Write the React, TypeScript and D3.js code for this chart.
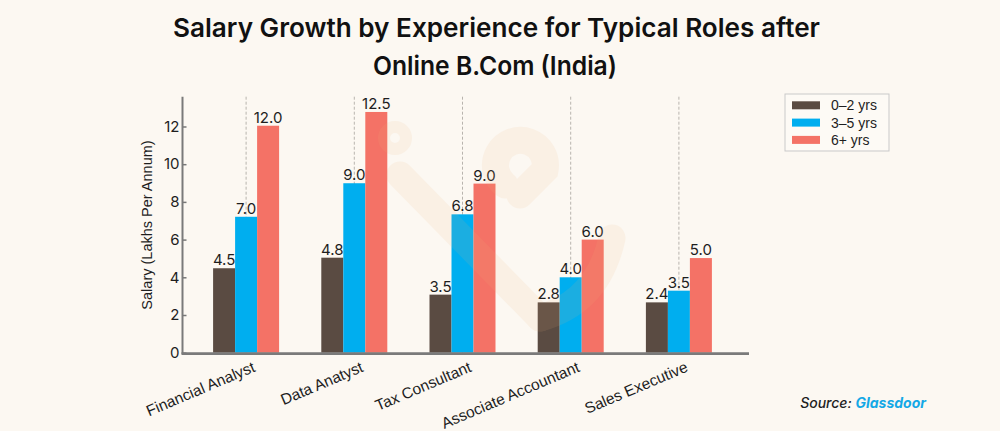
import React, { useEffect, useRef } from 'react'
import * as d3 from 'd3'

const roles = ['Financial Analyst', 'Data Anatyst', 'Tax Consultant', 'Associate Accountant', 'Sales Executive']
const seriesNames = ['0–2 yrs', '3–5 yrs', '6+ yrs']
const seriesColors = ['#5a4b42', '#00aeef', '#f47266']

// bar heights as drawn in the picture
const junior = [4.48, 5.04, 3.08, 2.67, 2.67]
const mid = [7.21, 8.99, 7.34, 4.0, 3.29]
const senior = [12.04, 12.77, 8.97, 6.0, 5.02]

// value labels printed above the bars
const juniorLabels = ['4.5', '4.8', '3.5', '2.8', '2.4']
const midLabels = ['7.0', '9.0', '6.8', '4.0', '3.5']
const seniorLabels = ['12.0', '12.5', '9.0', '6.0', '5.0']

const yTicks = [0, 2, 4, 6, 8, 10, 12]

const App = () => {
  const chart = useRef<SVGSVGElement>(null)
  const dims = { width: 1000, height: 431 }

  useEffect(() => {
    const svg = d3.select(chart.current)
    svg.selectAll('*').remove()

    svg.append('rect')
      .attr('width', dims.width)
      .attr('height', dims.height)
      .attr('fill', '#fcf8f2')

    const values = [junior, mid, senior]
    const labels = [juniorLabels, midLabels, seniorLabels]

    const x = d3.scaleBand()
      .domain(roles)
      .range([192, 733])
      .paddingInner(0.39)
      .paddingOuter(0.195)

    const xs = d3.scaleBand()
      .domain(seriesNames)
      .range([0, x.bandwidth()])

    const y = d3.scaleLinear()
      .domain([0, 13.58])
      .range([352.7, 96.7])

    // dashed guides at group centres
    svg.append('g')
      .selectAll('line')
      .data(roles)
      .join('line')
      .attr('x1', d => x(d)! + x.bandwidth() / 2)
      .attr('x2', d => x(d)! + x.bandwidth() / 2)
      .attr('y1', y.range()[1])
      .attr('y2', y(0))
      .attr('stroke', '#b8b4ae')
      .attr('stroke-width', 1)
      .attr('stroke-dasharray', '3,2')

    // bars
    seriesNames.forEach((s, si) => {
      const g = svg.append('g')
      g.selectAll('rect')
        .data(roles)
        .join('rect')
        .attr('x', d => x(d)! + xs(s)!)
        .attr('y', (d, i) => y(values[si][i]))
        .attr('width', xs.bandwidth())
        .attr('height', (d, i) => y(0) - y(values[si][i]))
        .attr('fill', seriesColors[si])

      g.selectAll('text')
        .data(roles)
        .join('text')
        .attr('x', d => x(d)! + xs(s)! + xs.bandwidth() / 2)
        .attr('y', (d, i) => y(values[si][i]) - 3)
        .attr('text-anchor', 'middle')
        .attr('font-family', 'Inter, sans-serif')
        .attr('font-size', 15)
        .attr('fill', '#1e1e1e')
        .text((d, i) => labels[si][i])
    })

    // faint logo watermark over the plot
    const wm = svg.append('g')
      .attr('opacity', 0.11)
      .attr('fill', 'none')
      .attr('stroke', '#f0b47a')
      .attr('stroke-linecap', 'round')
      .attr('stroke-width', 27)
    wm.append('path').attr('d', 'M 400 175 L 540 318')
    wm.append('path').attr('d', 'M 505 185 A 25 25 0 1 1 545 170 L 520 195')
    wm.append('path').attr('d', 'M 540 318 Q 598 302 612 238')
    wm.append('circle').attr('cx', 395).attr('cy', 138).attr('r', 6).attr('stroke-width', 22)

    // y axis
    const yAxis = svg.append('g')
      .attr('transform', 'translate(182.5,0)')
      .call(d3.axisLeft(y).tickValues(yTicks).tickFormat(d3.format('d')).tickSizeInner(-4).tickSizeOuter(0).tickPadding(3))
    yAxis.select('.domain').remove()
    yAxis.selectAll('line').attr('stroke', '#777').attr('stroke-width', 1.5)
    yAxis.selectAll('text')
      .attr('font-family', 'Inter, sans-serif')
      .attr('font-size', 15)
      .attr('fill', '#1e1e1e')

    svg.append('line')
      .attr('x1', 182.5).attr('x2', 182.5)
      .attr('y1', 96.7).attr('y2', 354)
      .attr('stroke', '#7a7a7a').attr('stroke-width', 2)

    // x axis line
    svg.append('line')
      .attr('x1', 181.5).attr('x2', 749)
      .attr('y1', 353.6).attr('y2', 353.6)
      .attr('stroke', '#7a7a7a').attr('stroke-width', 2.6)

    // category labels
    svg.append('g')
      .selectAll('text')
      .data(roles)
      .join('text')
      .attr('transform', d => `translate(${x(d)! + x.bandwidth() / 2 + 10},371) rotate(-23)`)
      .attr('text-anchor', 'end')
      .attr('font-family', '"Liberation Sans", Arial, sans-serif')
      .attr('font-size', 15.5)
      .attr('fill', '#1e1e1e')
      .text(d => d)

    // y axis title
    svg.append('text')
      .attr('transform', 'translate(148,225) rotate(-90)')
      .attr('text-anchor', 'middle')
      .attr('dominant-baseline', 'middle')
      .attr('font-family', '"Liberation Sans", Arial, sans-serif')
      .attr('font-size', 14.5)
      .attr('fill', '#1e1e1e')
      .text('Salary (Lakhs Per Annum)')

    // title
    const title = svg.append('g')
      .attr('font-family', 'Inter, sans-serif')
      .attr('font-weight', 600)
      .attr('font-size', 26)
      .attr('fill', '#111')
    title.append('text')
      .attr('x', 173).attr('y', 36.7)
      .attr('textLength', 647).attr('lengthAdjust', 'spacingAndGlyphs')
      .text('Salary Growth by Experience for Typical Roles after')
    title.append('text')
      .attr('x', 373).attr('y', 75)
      .attr('textLength', 244).attr('lengthAdjust', 'spacingAndGlyphs')
      .text('Online B.Com (India)')

    // legend
    const legend = svg.append('g')
    legend.append('rect')
      .attr('x', 785).attr('y', 94)
      .attr('width', 104).attr('height', 57)
      .attr('fill', '#fdfaf5')
      .attr('stroke', '#c9c9c9')
    seriesNames.forEach((s, i) => {
      const cy = 105.3 + i * 17.3
      legend.append('rect')
        .attr('x', 792).attr('y', cy - 4)
        .attr('width', 28).attr('height', 8)
        .attr('fill', seriesColors[i])
      legend.append('text')
        .attr('x', 831).attr('y', cy)
        .attr('dominant-baseline', 'central')
        .attr('font-family', '"Liberation Sans", Arial, sans-serif')
        .attr('font-size', 14)
        .attr('fill', '#1e1e1e')
        .text(s)
    })

    // source
    const src = svg.append('text')
      .attr('x', 926).attr('y', 408)
      .attr('text-anchor', 'end')
      .attr('font-family', 'Inter, sans-serif')
      .attr('font-size', 14)
      .attr('font-style', 'italic')
    src.append('tspan').attr('fill', '#1e1e1e').attr('font-weight', 500).text('Source: ')
    src.append('tspan').attr('fill', '#14a8e6').attr('font-weight', 700).text('Glassdoor')
  })

  return (
    <div style={{ position: 'fixed', left: 0, top: 0, width: dims.width, height: dims.height }}>
      <svg ref={chart} width={dims.width} height={dims.height}></svg>
    </div>
  )
}

export default App
